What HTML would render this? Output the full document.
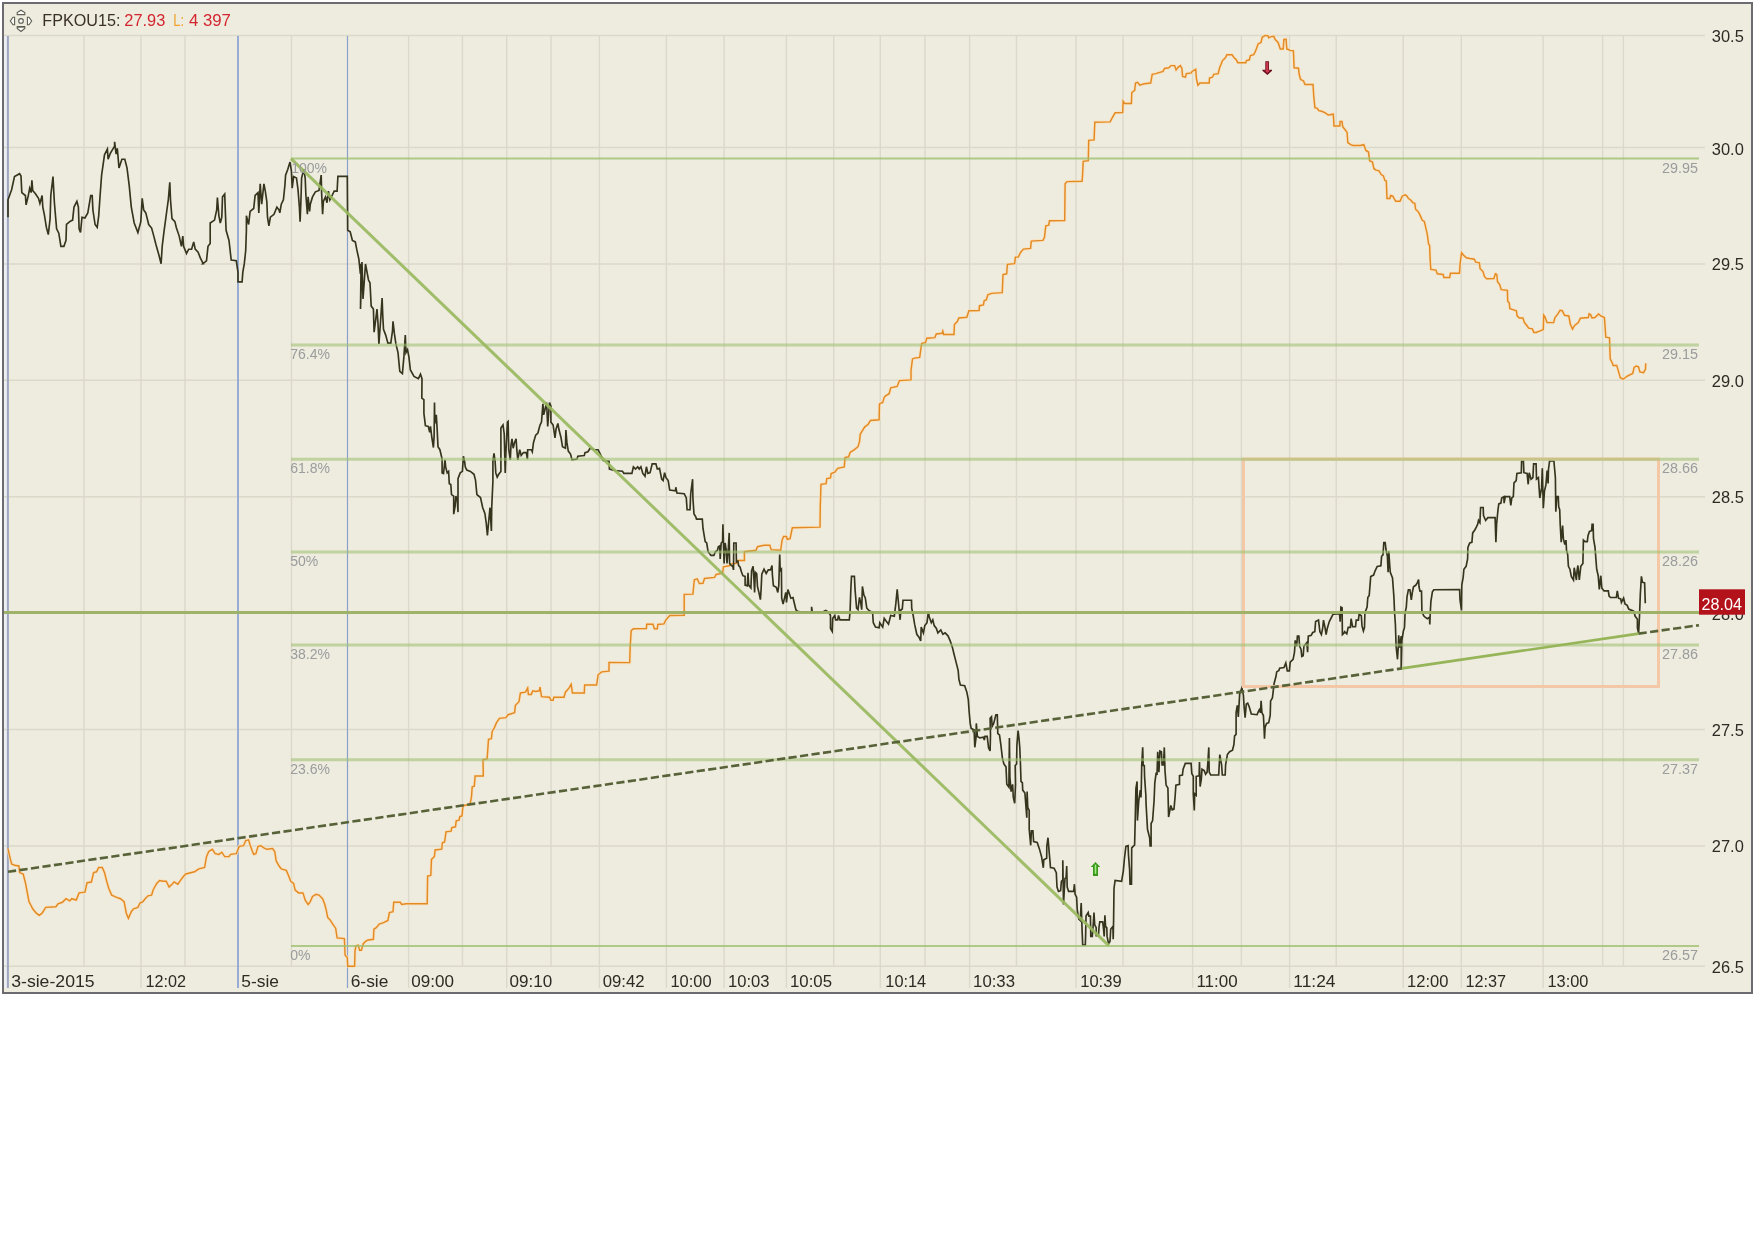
<!DOCTYPE html>
<html><head><meta charset="utf-8"><title>FPKOU15</title>
<style>html,body{margin:0;padding:0;background:#fff;}body{width:1754px;height:1240px;overflow:hidden;font-family:"Liberation Sans", sans-serif;}svg{display:block;position:absolute;left:0;top:0;will-change:transform;}text{font-family:"Liberation Sans", sans-serif;}</style>
</head><body>
<svg width="1754" height="1240" viewBox="0 0 1754 1240">
<rect x="0" y="0" width="1754" height="1240" fill="#ffffff"/>
<rect x="3" y="3" width="1749" height="990" fill="#eeebdf" stroke="#6c6c70" stroke-width="2"/>
<rect x="4" y="36" width="3" height="952" fill="#eceef2"/>
<line x1="4" y1="35.5" x2="1705" y2="35.5" stroke="#dbd9ca" stroke-width="1.4"/>
<line x1="4" y1="147.5" x2="1705" y2="147.5" stroke="#dbd9ca" stroke-width="1.4"/>
<line x1="4" y1="264" x2="1705" y2="264" stroke="#dbd9ca" stroke-width="1.4"/>
<line x1="4" y1="380.3" x2="1705" y2="380.3" stroke="#dbd9ca" stroke-width="1.4"/>
<line x1="4" y1="496.7" x2="1705" y2="496.7" stroke="#dbd9ca" stroke-width="1.4"/>
<line x1="4" y1="613" x2="1705" y2="613" stroke="#dbd9ca" stroke-width="1.4"/>
<line x1="4" y1="729.5" x2="1705" y2="729.5" stroke="#dbd9ca" stroke-width="1.4"/>
<line x1="4" y1="846" x2="1705" y2="846" stroke="#dbd9ca" stroke-width="1.4"/>
<line x1="4" y1="966.2" x2="1705" y2="966.2" stroke="#dbd9ca" stroke-width="1.4"/>
<line x1="84" y1="35.5" x2="84" y2="966.2" stroke="#dbd9ca" stroke-width="1.4"/>
<line x1="141" y1="35.5" x2="141" y2="988" stroke="#dbd9ca" stroke-width="1.4"/>
<line x1="185" y1="35.5" x2="185" y2="966.2" stroke="#dbd9ca" stroke-width="1.4"/>
<line x1="291.5" y1="35.5" x2="291.5" y2="966.2" stroke="#dbd9ca" stroke-width="1.4"/>
<line x1="408.6" y1="35.5" x2="408.6" y2="988" stroke="#dbd9ca" stroke-width="1.4"/>
<line x1="462.5" y1="35.5" x2="462.5" y2="966.2" stroke="#dbd9ca" stroke-width="1.4"/>
<line x1="506.7" y1="35.5" x2="506.7" y2="988" stroke="#dbd9ca" stroke-width="1.4"/>
<line x1="551" y1="35.5" x2="551" y2="966.2" stroke="#dbd9ca" stroke-width="1.4"/>
<line x1="599.4" y1="35.5" x2="599.4" y2="988" stroke="#dbd9ca" stroke-width="1.4"/>
<line x1="666.4" y1="35.5" x2="666.4" y2="988" stroke="#dbd9ca" stroke-width="1.4"/>
<line x1="724.1" y1="35.5" x2="724.1" y2="988" stroke="#dbd9ca" stroke-width="1.4"/>
<line x1="786.4" y1="35.5" x2="786.4" y2="988" stroke="#dbd9ca" stroke-width="1.4"/>
<line x1="833.7" y1="35.5" x2="833.7" y2="966.2" stroke="#dbd9ca" stroke-width="1.4"/>
<line x1="880.3" y1="35.5" x2="880.3" y2="988" stroke="#dbd9ca" stroke-width="1.4"/>
<line x1="925" y1="35.5" x2="925" y2="966.2" stroke="#dbd9ca" stroke-width="1.4"/>
<line x1="969.6" y1="35.5" x2="969.6" y2="988" stroke="#dbd9ca" stroke-width="1.4"/>
<line x1="1016.5" y1="35.5" x2="1016.5" y2="966.2" stroke="#dbd9ca" stroke-width="1.4"/>
<line x1="1076" y1="35.5" x2="1076" y2="988" stroke="#dbd9ca" stroke-width="1.4"/>
<line x1="1123" y1="35.5" x2="1123" y2="966.2" stroke="#dbd9ca" stroke-width="1.4"/>
<line x1="1192.6" y1="35.5" x2="1192.6" y2="988" stroke="#dbd9ca" stroke-width="1.4"/>
<line x1="1241.4" y1="35.5" x2="1241.4" y2="966.2" stroke="#dbd9ca" stroke-width="1.4"/>
<line x1="1289.6" y1="35.5" x2="1289.6" y2="988" stroke="#dbd9ca" stroke-width="1.4"/>
<line x1="1336.2" y1="35.5" x2="1336.2" y2="966.2" stroke="#dbd9ca" stroke-width="1.4"/>
<line x1="1403.2" y1="35.5" x2="1403.2" y2="988" stroke="#dbd9ca" stroke-width="1.4"/>
<line x1="1461.3" y1="35.5" x2="1461.3" y2="988" stroke="#dbd9ca" stroke-width="1.4"/>
<line x1="1543.1" y1="35.5" x2="1543.1" y2="988" stroke="#dbd9ca" stroke-width="1.4"/>
<line x1="1602.6" y1="35.5" x2="1602.6" y2="966.2" stroke="#dbd9ca" stroke-width="1.4"/>
<line x1="1623.4" y1="35.5" x2="1623.4" y2="966.2" stroke="#dbd9ca" stroke-width="1.4"/>
<line x1="7.9" y1="36" x2="7.9" y2="988" stroke="#9ea6c2" stroke-width="2"/>
<line x1="238" y1="36" x2="238" y2="988" stroke="#87a2d3" stroke-width="1.7"/>
<line x1="347.5" y1="36" x2="347.5" y2="988" stroke="#8ba1cc" stroke-width="1.2"/>
<polyline fill="none" stroke="#fde0b6" stroke-opacity="0.8" stroke-width="3.2" stroke-linejoin="round" points="8,848.6 9.4,855.1 11.6,863.9 14.5,865.3 18.9,866 19.6,872.6 23.2,874 25.4,882.7 26.8,890 29,901.6 32.7,908.8 36.3,913.2 39.2,915.4 42.1,913.2 45.7,907.4 55.9,906.7 58,903.8 62.4,902.3 66,898.7 69.7,900.9 71.8,898.7 76.2,900.1 79.1,892.9 84.9,892.2 87.1,882.7 91.4,882 93.6,872.6 96.5,871.8 98.7,867.5 102.3,867.5 104.5,872.6 106.7,881.3 108.8,888.5 111.7,895.1 116.1,897.2 120.4,898.7 124.1,901.6 126.3,913.2 128.4,918.3 131.3,911.7 133.5,908.8 137.9,907.4 140,903 142.9,901.6 145.1,898.7 148,895.8 151.6,895.1 153.1,890 156.7,883.4 159.6,880.5 163.3,881.3 166.2,881.3 169.1,887.1 172,884.2 174.1,882 177.8,884.2 181.4,879.1 183.6,876.2 185.8,874 194.5,871.8 198.8,868.9 204.6,867.5 206.5,856.6 208.7,851.5 212.3,849.3 215.2,853.7 218.9,854.4 221.8,852.2 224.7,856.6 229,856.6 230.5,854.4 236.3,853.7 239.2,846.4 243.5,845.7 245.7,840.6 248.6,839.9 250.1,845 252.2,850.8 253.7,854.4 255.9,853.7 258,846.4 260.9,845.7 263.9,847.9 266.8,849.3 272.6,848.6 274.7,851.5 276.2,860.9 279.1,866 281.3,868.9 286.3,870.4 288.5,875.5 290.7,881.3 293.6,883.4 295.1,890 298.7,892.9 303,892.9 305.2,900.1 308.1,904.5 310.3,901.6 312.5,896.5 316.1,894.3 319,895.1 322.6,898.7 324.8,904.5 326.3,910.3 327.7,917.5 329.9,919.7 332.8,924.1 335.7,928.4 337.1,937.9 344.4,938.6 345.1,955.3 347.3,957.5 347.7,966.2 354.6,966.2 355,950.9 356,945.8 358.2,945.1 359.6,950.2 361.4,950.2 363.3,943.7 366.2,940.8 368.3,940 373.4,939.3 373.9,929.2 376.3,927.7 379.2,924.1 383.6,922.6 387.9,920.4 389.4,912.5 393,911.7 393.7,902.3 400.3,902.3 401.7,904.5 406.1,903.8 427.2,903.7 427.6,876.1 430.8,875.4 431.5,859.4 434.4,856.5 435.1,850 441.7,849.2 442.4,842.7 444.6,842 446,831.8 451.1,831.1 451.8,827.5 455.5,826.8 456.2,820.9 459.1,820.2 459.8,816.6 462,815.9 463,805.7 470,804.3 471.4,797.7 472.2,786.8 474.3,786.1 475.1,776 483.3,776 483,759.7 487.1,759 488.5,739.4 491.4,738.7 492.2,731.4 494.3,727.8 496.5,722.7 499.4,718.4 505.9,717.6 508.1,714.7 514.6,712.6 515.4,705.3 519,701.7 520.4,693 525.5,692.2 527.7,687.9 528.4,694.4 531.3,694.4 532.8,690.8 535.7,691.5 539.3,690.8 540,687.2 541.5,696.6 549.5,697.3 550.9,700.2 553.1,700.2 553.8,697.3 564,697.3 565.4,692.2 569.1,687.9 571.2,684.3 572.4,693 584.3,693 584.6,685 596.6,685 598.1,674.8 601.7,671.9 609,671.2 609,662.5 629.7,662.6 630.2,646.7 631.2,630.7 633.4,628.8 646.4,628.5 646.7,624.2 653,624.2 654.4,628.8 657.3,628.8 657.8,624.5 663.9,623.9 666,619.8 669.7,615.5 684.2,615.2 684.2,594.4 692.9,594.1 694.3,579.9 697.2,578.9 699.4,583.5 703,583.2 704.5,578.5 714.6,577.4 716.1,574.5 722.6,573.1 723.4,566.8 729.2,565.8 730.6,564.1 736.4,563.4 737.9,560.4 744.4,560.4 744.4,551.7 756,550.3 757.5,546.7 764,545.2 769.8,545.2 771.2,549.6 780.7,550.3 782.1,540.1 783.6,536.5 786.5,536.5 787.2,539.4 790.1,538.7 792.3,527.8 820,527.1 820.3,505.4 821,484.4 826.1,483.7 826.8,478.6 830.5,477.9 831.2,473.5 834.8,472.1 837.7,468.4 844.3,467 845,457.5 848.6,456.8 850.1,452.5 854.4,449.6 858,446.7 859.5,441.6 860.2,434.3 862.4,430.7 864.6,427.1 868.2,424.2 870.4,420.5 879.1,419.8 879.5,403.9 882.7,402.4 884.2,397.3 885.6,395.9 889.2,393.7 890.7,387.9 897.2,386.4 899.4,380.6 911,379.9 911,370.5 912.5,358.9 914.6,358.1 919.7,357.4 921.2,346.5 921.8,343.4 925.4,342.7 926.8,338.3 934.8,337.6 936.3,334 942.1,333.3 942.8,331.1 943.5,334.4 954,334.4 954.4,324.6 957.3,321.6 958.8,318 966.8,317.3 968.9,310.8 979.1,310.5 979.5,305.7 983.4,305 984.2,300.6 986.3,299.9 987.8,294.8 991.4,293.4 1002.3,292.6 1003,274.5 1006.7,273.8 1007.4,264.3 1014.6,263.6 1015.4,257.1 1018.3,257.1 1020.4,252.7 1023.4,249.1 1030.6,248.4 1031.3,241.1 1042.9,240.4 1044.4,237.5 1045.8,225.9 1048.7,225.1 1049.5,220.8 1064.7,220.5 1065.1,183.8 1066.9,181.6 1082.1,181.3 1082.5,175.9 1083.2,161.4 1088.3,160.7 1088.7,140.4 1094.1,139.9 1094.8,122.2 1110.1,121.9 1112.2,117.9 1115.1,112.8 1122.7,112.5 1123.1,101.2 1124.6,103.4 1131.4,103.4 1131.8,92.5 1134.7,90.3 1135.5,83 1137.6,82.3 1139.8,85.2 1144.2,83.8 1150.7,83 1152.2,74.3 1155.8,73.6 1163,71.4 1164.5,68.5 1168.8,67.8 1171,65.6 1174.6,65.6 1176.1,70 1178.3,67.1 1180.4,65.6 1181.9,68.5 1182.6,76.5 1185.5,77.2 1186.3,73.6 1191.3,72.9 1192.1,71.4 1195.7,69.3 1196.4,78.7 1197.9,85.2 1200,83 1209.2,83 1209.5,78 1212.4,77.2 1213.8,74.3 1218.2,73.6 1219.6,67.8 1221.1,64.2 1222.5,60.6 1225.4,57.7 1226.9,54.7 1232,54.7 1234.1,57.7 1236.3,59.8 1237.8,62.7 1245.8,62.7 1246.5,60.6 1249.4,59.8 1250.4,55.5 1253.7,54.7 1255.2,51.8 1256.6,48.2 1258.1,43.9 1261,42.4 1262.2,37.3 1265.1,35.4 1268,35.9 1268.7,37.8 1270.9,36.6 1273.8,36.3 1275.2,39.5 1278.1,42.4 1280.3,48.9 1283.2,48.9 1283.9,39.5 1286.1,39.2 1286.8,48.9 1289,49.7 1289.7,50.4 1293.4,50.8 1294.1,67.8 1298.5,68.2 1299.2,74.3 1300.6,79.4 1303.5,80.9 1305,84.5 1313,84.5 1313.7,95.4 1314.9,107.7 1317.3,108.4 1318.8,110.6 1321.7,111.3 1325.3,112.8 1328.2,115 1333.3,114.2 1334,125.9 1339.8,125.9 1340.1,121.5 1342,121.5 1342.7,126.6 1344.9,129.5 1347.1,132.4 1347.8,142.5 1350.7,144.7 1352.9,145.4 1360.1,145.4 1363.8,144.7 1365.9,150.5 1368.5,152 1369.6,160.7 1372.5,162.1 1373.9,168.7 1376.1,170.1 1379,170.8 1381.2,174.5 1383.4,175.9 1384.8,180.3 1386.3,181 1387,198.4 1389.9,198.4 1390.6,195.5 1392.8,196.2 1395.7,201.3 1400,201.3 1402.2,196.2 1405.1,194.8 1406.8,195.8 1408.3,198.3 1411.2,200.5 1412.7,202.7 1414.8,203.4 1415.6,209.2 1418.5,212.1 1420.6,216.4 1422.1,220.1 1424.3,221.5 1425.7,227.3 1427.2,233.9 1428.6,244 1429.6,245.5 1430.1,258.5 1430.8,269.4 1435.9,270.1 1437.3,273.8 1443.1,274.5 1443.9,277.4 1449.7,277.4 1450.4,273.3 1459.5,273.3 1460.1,263.6 1461.6,252.7 1463.4,254.9 1466.3,257.8 1470,258.5 1474.3,259.2 1475.8,262.2 1479.4,262.9 1480.1,268.7 1483,271.6 1484.5,276.7 1486.7,278.8 1493.9,278.5 1495.4,273.8 1496.8,274.5 1497.5,281.7 1499.7,284.6 1501.2,289.7 1507.4,290.4 1507.7,301.3 1509.2,302.8 1509.9,308.6 1512.8,309.6 1516.4,310.8 1517.1,315.8 1519.3,318 1522.9,318 1524.4,322.4 1526.6,325.3 1528.7,328.2 1532.4,328.9 1533.8,332.5 1536,332.5 1539.6,331.1 1543.3,329.6 1543.7,315.1 1544.9,316.8 1547.1,322.6 1553.6,322.6 1555,317.5 1557.9,313.9 1560.1,310.2 1562.3,310.7 1564.5,315.3 1568.8,316 1570.3,324 1572.5,329.1 1574.6,325.5 1578.3,322.6 1580.4,318.2 1588.4,317.5 1589.1,313.9 1590.6,314.6 1592,317.9 1594.9,317.5 1598.6,313.9 1600.8,316 1604.4,317.5 1605.1,326.9 1605.8,337.1 1609.5,337.8 1610.2,358.8 1612.4,363.2 1613.1,365.4 1616.7,365.4 1618.2,370.4 1620.3,377.7 1623.2,379.2 1626.9,376.3 1632.7,373.4 1634.1,367.5 1636.3,366.1 1638.5,366.8 1639.9,371.9 1643.6,372.6 1645.5,369 1645.7,363.2"/>
<polyline fill="none" stroke="#e28a23" stroke-width="1.45" stroke-linejoin="miter" points="8,848.6 9.4,855.1 11.6,863.9 14.5,865.3 18.9,866 19.6,872.6 23.2,874 25.4,882.7 26.8,890 29,901.6 32.7,908.8 36.3,913.2 39.2,915.4 42.1,913.2 45.7,907.4 55.9,906.7 58,903.8 62.4,902.3 66,898.7 69.7,900.9 71.8,898.7 76.2,900.1 79.1,892.9 84.9,892.2 87.1,882.7 91.4,882 93.6,872.6 96.5,871.8 98.7,867.5 102.3,867.5 104.5,872.6 106.7,881.3 108.8,888.5 111.7,895.1 116.1,897.2 120.4,898.7 124.1,901.6 126.3,913.2 128.4,918.3 131.3,911.7 133.5,908.8 137.9,907.4 140,903 142.9,901.6 145.1,898.7 148,895.8 151.6,895.1 153.1,890 156.7,883.4 159.6,880.5 163.3,881.3 166.2,881.3 169.1,887.1 172,884.2 174.1,882 177.8,884.2 181.4,879.1 183.6,876.2 185.8,874 194.5,871.8 198.8,868.9 204.6,867.5 206.5,856.6 208.7,851.5 212.3,849.3 215.2,853.7 218.9,854.4 221.8,852.2 224.7,856.6 229,856.6 230.5,854.4 236.3,853.7 239.2,846.4 243.5,845.7 245.7,840.6 248.6,839.9 250.1,845 252.2,850.8 253.7,854.4 255.9,853.7 258,846.4 260.9,845.7 263.9,847.9 266.8,849.3 272.6,848.6 274.7,851.5 276.2,860.9 279.1,866 281.3,868.9 286.3,870.4 288.5,875.5 290.7,881.3 293.6,883.4 295.1,890 298.7,892.9 303,892.9 305.2,900.1 308.1,904.5 310.3,901.6 312.5,896.5 316.1,894.3 319,895.1 322.6,898.7 324.8,904.5 326.3,910.3 327.7,917.5 329.9,919.7 332.8,924.1 335.7,928.4 337.1,937.9 344.4,938.6 345.1,955.3 347.3,957.5 347.7,966.2 354.6,966.2 355,950.9 356,945.8 358.2,945.1 359.6,950.2 361.4,950.2 363.3,943.7 366.2,940.8 368.3,940 373.4,939.3 373.9,929.2 376.3,927.7 379.2,924.1 383.6,922.6 387.9,920.4 389.4,912.5 393,911.7 393.7,902.3 400.3,902.3 401.7,904.5 406.1,903.8 427.2,903.7 427.6,876.1 430.8,875.4 431.5,859.4 434.4,856.5 435.1,850 441.7,849.2 442.4,842.7 444.6,842 446,831.8 451.1,831.1 451.8,827.5 455.5,826.8 456.2,820.9 459.1,820.2 459.8,816.6 462,815.9 463,805.7 470,804.3 471.4,797.7 472.2,786.8 474.3,786.1 475.1,776 483.3,776 483,759.7 487.1,759 488.5,739.4 491.4,738.7 492.2,731.4 494.3,727.8 496.5,722.7 499.4,718.4 505.9,717.6 508.1,714.7 514.6,712.6 515.4,705.3 519,701.7 520.4,693 525.5,692.2 527.7,687.9 528.4,694.4 531.3,694.4 532.8,690.8 535.7,691.5 539.3,690.8 540,687.2 541.5,696.6 549.5,697.3 550.9,700.2 553.1,700.2 553.8,697.3 564,697.3 565.4,692.2 569.1,687.9 571.2,684.3 572.4,693 584.3,693 584.6,685 596.6,685 598.1,674.8 601.7,671.9 609,671.2 609,662.5 629.7,662.6 630.2,646.7 631.2,630.7 633.4,628.8 646.4,628.5 646.7,624.2 653,624.2 654.4,628.8 657.3,628.8 657.8,624.5 663.9,623.9 666,619.8 669.7,615.5 684.2,615.2 684.2,594.4 692.9,594.1 694.3,579.9 697.2,578.9 699.4,583.5 703,583.2 704.5,578.5 714.6,577.4 716.1,574.5 722.6,573.1 723.4,566.8 729.2,565.8 730.6,564.1 736.4,563.4 737.9,560.4 744.4,560.4 744.4,551.7 756,550.3 757.5,546.7 764,545.2 769.8,545.2 771.2,549.6 780.7,550.3 782.1,540.1 783.6,536.5 786.5,536.5 787.2,539.4 790.1,538.7 792.3,527.8 820,527.1 820.3,505.4 821,484.4 826.1,483.7 826.8,478.6 830.5,477.9 831.2,473.5 834.8,472.1 837.7,468.4 844.3,467 845,457.5 848.6,456.8 850.1,452.5 854.4,449.6 858,446.7 859.5,441.6 860.2,434.3 862.4,430.7 864.6,427.1 868.2,424.2 870.4,420.5 879.1,419.8 879.5,403.9 882.7,402.4 884.2,397.3 885.6,395.9 889.2,393.7 890.7,387.9 897.2,386.4 899.4,380.6 911,379.9 911,370.5 912.5,358.9 914.6,358.1 919.7,357.4 921.2,346.5 921.8,343.4 925.4,342.7 926.8,338.3 934.8,337.6 936.3,334 942.1,333.3 942.8,331.1 943.5,334.4 954,334.4 954.4,324.6 957.3,321.6 958.8,318 966.8,317.3 968.9,310.8 979.1,310.5 979.5,305.7 983.4,305 984.2,300.6 986.3,299.9 987.8,294.8 991.4,293.4 1002.3,292.6 1003,274.5 1006.7,273.8 1007.4,264.3 1014.6,263.6 1015.4,257.1 1018.3,257.1 1020.4,252.7 1023.4,249.1 1030.6,248.4 1031.3,241.1 1042.9,240.4 1044.4,237.5 1045.8,225.9 1048.7,225.1 1049.5,220.8 1064.7,220.5 1065.1,183.8 1066.9,181.6 1082.1,181.3 1082.5,175.9 1083.2,161.4 1088.3,160.7 1088.7,140.4 1094.1,139.9 1094.8,122.2 1110.1,121.9 1112.2,117.9 1115.1,112.8 1122.7,112.5 1123.1,101.2 1124.6,103.4 1131.4,103.4 1131.8,92.5 1134.7,90.3 1135.5,83 1137.6,82.3 1139.8,85.2 1144.2,83.8 1150.7,83 1152.2,74.3 1155.8,73.6 1163,71.4 1164.5,68.5 1168.8,67.8 1171,65.6 1174.6,65.6 1176.1,70 1178.3,67.1 1180.4,65.6 1181.9,68.5 1182.6,76.5 1185.5,77.2 1186.3,73.6 1191.3,72.9 1192.1,71.4 1195.7,69.3 1196.4,78.7 1197.9,85.2 1200,83 1209.2,83 1209.5,78 1212.4,77.2 1213.8,74.3 1218.2,73.6 1219.6,67.8 1221.1,64.2 1222.5,60.6 1225.4,57.7 1226.9,54.7 1232,54.7 1234.1,57.7 1236.3,59.8 1237.8,62.7 1245.8,62.7 1246.5,60.6 1249.4,59.8 1250.4,55.5 1253.7,54.7 1255.2,51.8 1256.6,48.2 1258.1,43.9 1261,42.4 1262.2,37.3 1265.1,35.4 1268,35.9 1268.7,37.8 1270.9,36.6 1273.8,36.3 1275.2,39.5 1278.1,42.4 1280.3,48.9 1283.2,48.9 1283.9,39.5 1286.1,39.2 1286.8,48.9 1289,49.7 1289.7,50.4 1293.4,50.8 1294.1,67.8 1298.5,68.2 1299.2,74.3 1300.6,79.4 1303.5,80.9 1305,84.5 1313,84.5 1313.7,95.4 1314.9,107.7 1317.3,108.4 1318.8,110.6 1321.7,111.3 1325.3,112.8 1328.2,115 1333.3,114.2 1334,125.9 1339.8,125.9 1340.1,121.5 1342,121.5 1342.7,126.6 1344.9,129.5 1347.1,132.4 1347.8,142.5 1350.7,144.7 1352.9,145.4 1360.1,145.4 1363.8,144.7 1365.9,150.5 1368.5,152 1369.6,160.7 1372.5,162.1 1373.9,168.7 1376.1,170.1 1379,170.8 1381.2,174.5 1383.4,175.9 1384.8,180.3 1386.3,181 1387,198.4 1389.9,198.4 1390.6,195.5 1392.8,196.2 1395.7,201.3 1400,201.3 1402.2,196.2 1405.1,194.8 1406.8,195.8 1408.3,198.3 1411.2,200.5 1412.7,202.7 1414.8,203.4 1415.6,209.2 1418.5,212.1 1420.6,216.4 1422.1,220.1 1424.3,221.5 1425.7,227.3 1427.2,233.9 1428.6,244 1429.6,245.5 1430.1,258.5 1430.8,269.4 1435.9,270.1 1437.3,273.8 1443.1,274.5 1443.9,277.4 1449.7,277.4 1450.4,273.3 1459.5,273.3 1460.1,263.6 1461.6,252.7 1463.4,254.9 1466.3,257.8 1470,258.5 1474.3,259.2 1475.8,262.2 1479.4,262.9 1480.1,268.7 1483,271.6 1484.5,276.7 1486.7,278.8 1493.9,278.5 1495.4,273.8 1496.8,274.5 1497.5,281.7 1499.7,284.6 1501.2,289.7 1507.4,290.4 1507.7,301.3 1509.2,302.8 1509.9,308.6 1512.8,309.6 1516.4,310.8 1517.1,315.8 1519.3,318 1522.9,318 1524.4,322.4 1526.6,325.3 1528.7,328.2 1532.4,328.9 1533.8,332.5 1536,332.5 1539.6,331.1 1543.3,329.6 1543.7,315.1 1544.9,316.8 1547.1,322.6 1553.6,322.6 1555,317.5 1557.9,313.9 1560.1,310.2 1562.3,310.7 1564.5,315.3 1568.8,316 1570.3,324 1572.5,329.1 1574.6,325.5 1578.3,322.6 1580.4,318.2 1588.4,317.5 1589.1,313.9 1590.6,314.6 1592,317.9 1594.9,317.5 1598.6,313.9 1600.8,316 1604.4,317.5 1605.1,326.9 1605.8,337.1 1609.5,337.8 1610.2,358.8 1612.4,363.2 1613.1,365.4 1616.7,365.4 1618.2,370.4 1620.3,377.7 1623.2,379.2 1626.9,376.3 1632.7,373.4 1634.1,367.5 1636.3,366.1 1638.5,366.8 1639.9,371.9 1643.6,372.6 1645.5,369 1645.7,363.2"/>
<polyline fill="none" stroke="#35341c" stroke-width="1.65" stroke-linejoin="miter" points="8,217.2 8,199.8 11.6,189.7 14.5,176.6 19.6,173.7 21,175.9 21.8,192.6 25.4,195.5 26.1,204.9 28.3,195.5 29.7,188.2 31.2,192.6 31.9,180.2 32.7,190.4 35.6,194 38.5,198.4 39.9,203.4 42.1,195.5 42.8,207.1 44.3,214.3 46.4,227.4 48.3,234.6 50.1,218.7 50.8,195.5 53,176.6 54.4,202.7 56.6,228.8 58.8,233.2 60.9,246.3 63.9,246.3 66,240.4 66.5,224.5 69.7,221.6 72.6,220.1 74,207.1 76.9,201.3 78.4,207.1 79.1,228.8 80.5,232.5 82,217.2 84.9,218 87.8,212.9 90.7,195.5 92.2,195.5 92.9,210 95.1,224.5 97.2,227.4 98.7,215.8 100.1,195.5 101.6,175.1 104.5,154.8 107.4,149 108.1,159.2 110.3,153.4 114.6,146.1 114.6,141.8 116.1,154.1 117.3,148.3 119,167.9 121.9,159.2 124.8,159.2 127,167.9 129.2,185.3 131.3,207.1 134.2,223 137.9,232.5 140.8,221.6 142.2,198.4 143.7,210 145.8,212.9 148.7,224.5 151.6,228.1 153.8,236.1 156,244.8 158.9,255 161.1,263.7 162.2,246.3 164,231.7 166.9,210 168.3,199.8 169.8,182.4 170.5,199.8 172,218.7 174.9,221.6 176.3,227.4 179.2,236.1 181.4,246.3 182.8,236.1 183.6,246.3 186.5,253.5 188.7,249.2 191.6,249.2 193.7,241.9 195.2,249.2 198.1,252.1 200.3,257.9 203.2,263.7 202.9,263.7 206.5,260.8 208,246.3 210.2,243.4 210.2,223 214.5,220.1 216.7,210 217.4,197.6 218.9,215.8 220.3,223 221.8,217.2 222.5,196.9 224.7,194 225.4,212.9 226.1,230.3 229,240.4 231.2,260 236.3,260.8 238,272.4 238,281.8 242.1,281.8 242.8,272.4 244.3,263.7 245.7,250.6 246.4,230.3 246.4,215.8 248.6,224.5 250.1,211.4 253.7,208.5 255.1,195.5 258,192.6 258.8,212.9 260.2,183.9 261.7,204.2 263.9,183.9 265.3,191.1 266.8,201.3 267.5,217.2 268.9,225.9 270.4,217.2 274,214.3 276.9,207.1 279.1,210 279.8,212.9 281.3,204.2 283.4,199.8 284.9,185.3 285.6,175.1 287.8,169.3 290,162.1 291.4,170.8 292.2,188.2 293.6,176.6 296.5,178 298,189.7 299.4,207.1 300.1,221.6 300.9,201.3 301.6,178 303.8,169.3 305.2,178 305.9,195.5 307.4,214.3 308.1,196.9 309.6,211.4 310.3,204.2 312.5,196.9 315.4,191.8 319,190.4 321.2,175.1 321.6,192.6 322.6,214.3 323.4,201.3 325.5,196.9 327,202.7 328.4,191.1 329.9,199.8 332.1,195.5 334.2,191.1 337.1,191.1 337.9,176.3 347.3,176.3 347.7,230.3 350.2,231.7 352.4,240.4 355.3,241.9 356.7,249.2 358.9,259.3 360.4,273.8 361.1,263.7 360.5,309 362,262 363,299 365.5,264 368.5,280 370,283 371.2,306.1 373.4,309 374.1,332.2 375.6,320.6 377,309 378,323.5 378.9,343.9 380.6,320.6 382.1,298.1 382.8,316.3 383.5,329.3 385.7,335.1 387.9,343.1 390.8,343.1 392.5,330.8 393,321.4 394.4,333.7 395.9,343.9 398,352.6 399.8,371.4 402.4,373.6 403.9,356.9 405.3,335.1 406,352.6 407.5,349.7 408.9,356.9 410.4,370 414,376.5 418.4,378.7 420.5,374.3 422,378.7 421.8,398.1 423.9,399.6 423.9,413.4 425.4,425.7 428.3,426.4 429.7,432.2 430.5,426.4 431.9,438 433.4,447.5 434.1,436.6 434.5,402.5 434.8,423.5 436.3,414.8 437,426.4 438,446.8 439.9,449.7 442.1,459.1 442.1,472.9 443.5,473.6 445,459.8 445.7,467.1 447.2,472.9 448.6,471.4 449.3,483.8 450.8,484.5 451.5,494.6 453.7,496.1 453.7,514.2 455.1,506.3 455.9,496.1 457.3,500.4 458,512.1 458,478.7 460.2,472.9 462.4,471.4 463.4,456.2 464.6,461.3 465.3,467.1 466.8,470 470.4,471.4 474,474.3 475.5,480.1 476.9,494.6 480.5,497.5 482.7,507.7 484.9,513.5 486.3,523.7 487.4,535.3 488.5,523.7 490,507.7 491.4,530.9 491.7,507.7 492.9,481.6 492.9,461.3 494,453.3 495.1,461.3 495.8,472.9 497.2,477.2 498.7,474.3 500.9,471.4 500.9,427.9 503,425 504.2,433.7 505.2,472.9 505.9,452.6 507.4,422.1 508.1,421.4 508.8,449.7 510.3,459.8 511,445.3 512,438.8 513.2,448.2 514.6,442.4 516.1,438.8 516.8,449.7 517.8,459.8 519.7,449.7 521.2,455.5 523.4,452.6 526.3,452.6 527.4,459.1 527.7,449.7 531.3,449.7 532.3,451.8 533.5,442.4 535.7,435.1 537.9,433 540,425 541.5,422.1 542.9,403.9 543.7,414.8 545.1,409 546.6,402.5 547.7,426.4 548.7,413.4 549.5,402.5 550.9,406.1 550.9,422.1 553.1,425 555,438 556,429.3 557.9,423.5 558.9,429.3 561.1,438 562.5,446.8 565.4,448.2 565.9,430.1 566.9,442.4 568.3,451.1 570.5,454 572,459.8 577,459.1 577.8,456.2 584.3,455.5 585,452.6 587.9,451.8 590.1,448.2 594.5,449.7 598.1,449.7 600.3,454 603.2,460.5 609,461.3 609.4,469 614.5,470.5 622.5,471.2 623.9,473.4 631.9,473.4 633.4,466.8 635.6,469 637.7,466.8 639.2,469 640.9,466.8 642.8,473.4 645,476.3 646.4,466.8 647.9,473.4 650.1,472.7 652.2,463.9 655.9,463.9 657.3,469 659.5,468.3 661.7,479.2 663.1,480.6 664.6,472.7 666,477.7 668.2,480.6 669.7,490.1 675.5,490.8 675.8,487.2 676.9,493 684.2,493.7 686.3,498 687.1,509.7 690,509.7 690.7,493.7 692.6,479.2 692.9,498 694,514 695.8,516.9 696.5,519.1 702.3,519.1 703,528.5 705.2,541.6 706.7,543 708.1,551.7 711,555.4 713.9,555.4 715.4,551.7 717.5,550.3 718.3,546.7 719.7,545.9 720.2,559 721.2,543 722.6,541.6 722.9,524.2 723.4,541.6 724.1,563.4 725.1,543 726.3,550.3 727,563.4 728.4,547.4 729.2,532.9 729.6,563.4 731.3,565.5 732.8,566.3 733.5,569.9 733.8,543 736.1,543 736.4,561.9 737.9,561.2 738.6,565.5 740,567 741.5,572.1 742.9,575.7 745.1,576.4 745.1,585.1 747.3,585.8 748,572.8 748.7,585.1 750.9,588 751.6,570.6 753.1,566.3 753.8,576.4 754.6,592.4 755.3,572.1 756.7,573.5 757.5,586.6 758.9,592.4 760.4,599.6 761.1,589.5 761.8,574.2 764,569.2 766.2,573.5 768.3,569.9 770.5,569.9 772,565.5 772.4,575 773.4,585.8 776.3,587.3 777.8,592.4 778.8,585.1 779.7,554.6 780.2,570.6 781.4,569.2 781.7,598.2 783.1,604 784.3,598.9 785.8,592.4 786.5,602.5 787.9,589.5 789.4,593.8 790.8,598.2 793,597.5 794.5,604 795.9,609.8 797.4,611.2 800,611.8 811.6,611.8 811.6,606.8 812.3,611.8 823.2,611.8 825.8,610.4 829,612.6 830.5,615.5 830.5,628.5 832.2,631.4 832.7,618.4 834.8,615.5 835.6,619.8 837.7,619.8 838.5,615.5 839.9,619.8 849.3,619.8 850.1,611.1 850.8,590.1 851.5,576.3 854.4,576.3 855.1,590.1 856.6,608.2 858,609.7 859.5,597.3 860.9,603.9 861.7,609.7 862.4,586.4 863.9,595.1 865.3,598 866.8,608.2 868.9,610.4 872.6,612.6 873.3,622.7 875.5,627.1 879.1,627.8 879.8,622.7 882.7,627.1 884.2,618.4 886.3,621.3 888.5,624.2 890.7,615.5 894.3,616.2 895.8,603.9 897.2,589.3 898,598 899.4,612.6 900.1,619.8 900.9,609.7 902.3,608.9 903,600.2 911.5,600.2 911.7,608.2 913.2,615.5 914.6,624.2 916.8,634.3 919,637.2 920.7,640.9 921.2,627.1 923.4,632.9 924.8,625.6 927,622.7 928.4,611.1 929.2,616.9 931.3,622.7 932.8,619.8 934.2,625.6 936.4,628.5 937.9,632.9 940.8,630 942.9,634.3 945.1,632.9 948,635.8 950.2,640.9 952.4,647.4 953.8,653.2 956,661.9 958.2,670.6 958.9,679.3 960.4,685.1 964.7,685.8 966.9,692.4 968.3,699.6 969.1,711.2 970.2,723.4 971.2,728.5 974.1,729.9 974.8,747.3 976,737.9 976.3,723.4 977.4,736.4 979.9,737.9 983.5,737.2 984.3,740.1 985,736.4 987.2,736.4 988.6,748 990.1,750.9 990.5,735 990.1,718.3 991.5,716.8 992.2,726.3 993.7,723.4 995.9,714.7 997.3,714.7 997.8,733.5 999.5,735 1000.9,745.1 1002.4,758.2 1003.9,764 1006,766.9 1006.8,784.3 1008.9,787.2 1009.4,737.9 1009.9,777.1 1011.1,791.6 1012.6,784.3 1013.3,797.4 1014.7,803.2 1015.5,784.3 1015.2,765.5 1016.6,764 1016.9,745.1 1018.1,730.6 1019.1,739.3 1019.8,748 1020.5,765.5 1021,781.4 1022.4,782.9 1022.7,790.1 1024.9,793 1026.8,817.7 1027.1,791.6 1027.8,807.5 1029.2,810.4 1029.2,829.3 1030.7,845.3 1031.4,830.8 1032.9,830.8 1033.6,841.6 1037.2,842.4 1039.4,848.9 1041.6,856.9 1043.3,867.8 1043.8,859.8 1046.7,858.3 1046.8,846.4 1048,837.7 1049,850.1 1049.7,858 1050.5,867.5 1054.1,868.2 1056.3,872.6 1057,887.1 1058.5,891.4 1060.6,890.7 1061.4,881.3 1062.8,879.8 1062.8,860.2 1063.5,904.5 1064.3,890 1065,878.4 1066.1,877.6 1066.7,866 1067.2,887.1 1068.6,891.4 1073.7,891.4 1074.4,884.2 1075.1,894.3 1076.6,897.2 1077.3,910.3 1078.8,919 1080.2,920.4 1081.2,903 1082.1,930.6 1082.7,945.1 1085.3,945.1 1085.6,936.4 1086,916.1 1088.2,912.5 1088.9,916.1 1090.4,916.1 1090.8,936.4 1092.3,936.4 1093.3,923.4 1094,912.5 1094.7,924.8 1096.2,927.7 1096.2,935.7 1098.4,935.7 1099.1,926.3 1099.8,921.9 1102.7,921.9 1103.4,927.7 1104.2,936.4 1104.9,915.4 1105.6,926.3 1106.8,927.7 1107.1,936.4 1108.5,943.7 1110,941.5 1110.7,929.2 1112.9,926.3 1113.2,939.3 1113.6,920.4 1114,888.5 1115.1,880.5 1121.6,881.3 1123.3,871.1 1124.5,858 1125.9,846.4 1128.1,845.7 1128.5,855.1 1129.6,869.7 1130,884.2 1131.5,884.2 1131.7,847.9 1133.2,846.4 1134.6,845 1135.2,820.6 1135.9,788.7 1137.1,781.4 1137.4,820.6 1138.8,800.3 1140.3,790.1 1141,797.4 1141.4,782.9 1141.7,765.5 1142.7,747.3 1143.2,765.5 1144.3,765.5 1144.6,777.1 1145.8,794.5 1146.1,804.6 1147.5,829.3 1149.7,838 1150.1,846 1151.1,846 1151.1,823.5 1152.6,820.6 1154.1,800.3 1154.8,782.9 1156.2,772.7 1157,775 1157.7,751.7 1158.9,772.1 1159.9,751 1161.4,751.7 1162.1,764.8 1163.5,764.8 1164.3,747.4 1165,770.6 1166.1,785.1 1167.9,788 1168.6,817 1170.8,805.4 1172.2,809.8 1174,809.1 1175.1,796.7 1175.9,785.1 1179.5,784.4 1179.5,775.7 1182.4,775 1183.1,769.2 1185.3,763.4 1191.1,763.4 1191.8,773.5 1193.3,776.4 1193.3,793.8 1194.3,810.5 1194.7,793.8 1196.2,795.3 1196.2,776.4 1199.1,775.7 1199.5,761.9 1200.1,786.6 1201.3,779.3 1202,769.2 1204.2,770.6 1205.6,774.2 1207.1,772.1 1207.8,763.4 1208.8,747.4 1209.2,772.1 1210.7,775 1218.7,775 1219.8,754.6 1221.6,764.8 1222.3,775 1225.2,775 1225.6,764.8 1227.4,754.6 1229.6,751.7 1232.5,750.3 1233.9,744.5 1234.6,735.8 1236.1,734.3 1236.1,712.6 1237.3,705.3 1238.3,716.9 1239.7,693.7 1241.9,687.9 1243.4,695.1 1244.1,706.8 1245.1,717.6 1246.3,703.9 1247.7,703.1 1249.2,706.8 1251.3,714 1257.1,714.7 1257.9,712.6 1259.3,709.7 1260.5,712.6 1261.1,700.9 1261.9,712.6 1263.4,715.5 1264,727.1 1264.5,738.7 1265.1,727.1 1266.6,723.4 1268.7,722.7 1270.2,715.5 1270.6,700.9 1272.4,698 1273.1,692.2 1274.1,683.5 1276,676.3 1276.7,671.9 1278.9,670.5 1279.6,668.3 1284,667.6 1285.8,662.9 1287.3,670.9 1289.4,670.9 1290.2,662.2 1293.1,659.3 1294.5,652.1 1295.2,640.4 1296.7,646.3 1297.4,636.1 1298.9,636.1 1299.6,646.3 1301,649.2 1301.8,656.4 1303.2,655.7 1303.9,646.3 1306.8,642.6 1307.6,652.1 1308.3,636.1 1311.2,635.4 1312.7,632.5 1314.8,631.7 1315.6,621.6 1318.5,620.1 1319.9,631.7 1321.4,634.6 1322.8,627.4 1323.5,620.1 1325,627.4 1326.1,634.6 1327.2,628.8 1329.3,621.6 1333,614.3 1339.5,613.6 1340.2,621.6 1340.9,607.1 1342.1,607.8 1342.4,634.6 1343.9,633.2 1344.6,631.7 1346.8,633.9 1348.2,627.4 1350.4,627.4 1351.1,618.7 1352.6,626.7 1355.5,626.7 1356.2,620.1 1358.4,620.1 1359.1,614.3 1361.3,615.8 1362,625.9 1363.4,631 1364.5,627.4 1364.9,612.9 1367.1,607.1 1367.8,597.6 1369.2,595.5 1370.7,576.6 1373.6,575.1 1375.1,570.8 1377.2,566.4 1380.9,565.7 1381.6,556.3 1383,554.8 1383.8,542.5 1385.2,542.5 1385.9,549 1387.4,556.3 1388.1,572.2 1388.8,551.2 1389.6,563.5 1390.3,572.2 1392.5,578 1393.9,596.9 1394.6,612.9 1395.4,624.5 1396.1,646.3 1397.5,659.3 1398.3,646.3 1398.7,635.4 1399.7,647.7 1401.2,636.1 1401.2,668 1401.9,640.4 1403.4,631 1404.5,627.4 1405.1,612.9 1406.3,607.1 1407,596.9 1408.4,589.7 1409.9,589.7 1411.3,599.8 1412.3,592.6 1413.5,586.8 1415.7,585.3 1417.1,583.1 1418.6,579.5 1419,586.8 1420,591.1 1421.5,591.1 1421.9,611.4 1423.7,615.8 1425.1,617.2 1427.3,618.7 1429.5,617.2 1429.8,624.5 1430.2,614.3 1430.9,601.3 1432.4,591.8 1433.8,589.7 1459.6,589.5 1460,599.6 1461.5,610.5 1461.8,585.1 1463.2,577.1 1463.9,569.2 1466.1,566.3 1467.6,559 1467.9,547.4 1469.7,543 1471.9,542.3 1472.7,532.9 1474.8,530 1476.3,527.1 1477.7,524.2 1478.5,520.5 1479.9,522.7 1480.6,507.5 1483.2,507.5 1483.5,515.5 1485.7,520.5 1487.9,517.6 1495.1,517.6 1495.9,542.3 1496.6,524.2 1498,509.7 1498.8,503.9 1500.9,503.1 1501.7,498 1503.9,496.6 1504.1,503.1 1505.3,496.6 1509.7,496.6 1510.8,505.3 1511.8,498 1513.3,496.6 1514,482.8 1516.2,480.6 1516.9,473.4 1521.3,472.7 1521.6,461 1523.4,461 1523.9,472.7 1527.1,473.4 1528.2,484.3 1529.2,472.7 1531.1,479.2 1532.9,477.7 1533.6,463.9 1536.1,463.9 1536.5,479.2 1538.4,477.7 1539.8,498 1541.6,487.9 1542.3,468.3 1543.3,508.2 1544.5,490.8 1545.9,485 1547.1,470.5 1548.1,483.5 1548.5,469 1549.6,461 1553.9,461 1554.6,469 1555.4,477.7 1555.8,511.8 1556.8,496.6 1558.3,496.6 1558.7,506.8 1559.7,509.7 1560.2,524.2 1561.2,542.3 1562.6,525.6 1563.4,538.7 1564.8,544.5 1566,540.1 1566.5,550.3 1567.7,554.6 1568.4,566.3 1569.9,569.2 1571.3,576.4 1573.5,580 1574.2,567.7 1576.4,580 1577.1,570.6 1577.9,565.5 1579.3,580 1580.8,566.3 1582.9,563.4 1583.4,540.1 1585.1,541.6 1587.3,541.6 1588,535.8 1589.5,531.4 1591.6,530.7 1592.1,524.2 1593.1,524.2 1593.5,538.7 1595,547.4 1596,560.4 1596.7,569.2 1598.2,575.7 1599.3,589.5 1600.8,575.7 1601.8,588 1604,590.9 1608.3,590.9 1609.1,596 1610.5,597.5 1616.3,597.5 1617.3,590.9 1618.5,598.2 1620.7,598.9 1621.4,602.5 1623.6,598.2 1625,604 1627.2,605.4 1628.7,609.1 1633.7,611.2 1635.2,616.3 1637.4,619.2 1637.4,628 1638.6,633.3 1639.5,616.3 1640.3,594.6 1641.4,576.4 1642.4,582.2 1644.6,582.9 1645.3,603.3"/>
<rect x="1243.5" y="459" width="415" height="227.5" fill="none" stroke="#f4c8a6" stroke-width="3"/>
<line x1="291" y1="158.6" x2="1699" y2="158.6" stroke="#9fc070" stroke-width="2" stroke-opacity="0.8"/>
<line x1="291" y1="345" x2="1699" y2="345" stroke="#9fc070" stroke-width="3" stroke-opacity="0.58"/>
<line x1="291" y1="459.2" x2="1699" y2="459.2" stroke="#9fc070" stroke-width="3" stroke-opacity="0.58"/>
<line x1="291" y1="552" x2="1699" y2="552" stroke="#9fc070" stroke-width="3" stroke-opacity="0.58"/>
<line x1="291" y1="645" x2="1699" y2="645" stroke="#9fc070" stroke-width="3" stroke-opacity="0.58"/>
<line x1="291" y1="759.8" x2="1699" y2="759.8" stroke="#9fc070" stroke-width="3" stroke-opacity="0.58"/>
<line x1="291" y1="946" x2="1699" y2="946" stroke="#9fc070" stroke-width="2" stroke-opacity="0.8"/>
<line x1="1243.5" y1="459.1" x2="1659.8" y2="459.1" stroke="#c6c488" stroke-width="2.2"/>
<line x1="4" y1="612.4" x2="1699" y2="612.4" stroke="#9bb065" stroke-width="3" stroke-opacity="0.96"/>
<line x1="291" y1="158.6" x2="1108.8" y2="945.6" stroke="#99b85e" stroke-width="3" stroke-opacity="0.92"/>
<line x1="8" y1="871.8" x2="1402" y2="668.4" stroke="#586238" stroke-width="2.6" stroke-dasharray="8.2 3.4"/>
<line x1="1402" y1="668.4" x2="1638.6" y2="633.6" stroke="#95b558" stroke-width="2.6"/>
<line x1="1638.6" y1="633.6" x2="1699" y2="625.2" stroke="#586238" stroke-width="2.6" stroke-dasharray="8.2 3.4"/>
<text x="291.2" y="173" font-size="14" fill="#9a9c9d">100%</text>
<text x="290.2" y="358.6" font-size="14" fill="#9a9c9d">76.4%</text>
<text x="290.2" y="473" font-size="14" fill="#9a9c9d">61.8%</text>
<text x="290.2" y="566" font-size="14" fill="#9a9c9d">50%</text>
<text x="290.2" y="659" font-size="14" fill="#9a9c9d">38.2%</text>
<text x="290.2" y="773.6" font-size="14" fill="#9a9c9d">23.6%</text>
<text x="290.2" y="959.8" font-size="14" fill="#9a9c9d">0%</text>
<text x="1698" y="172.5" font-size="14" fill="#9a9c9d" text-anchor="end" textLength="36" lengthAdjust="spacingAndGlyphs">29.95</text>
<text x="1698" y="358.9" font-size="14" fill="#9a9c9d" text-anchor="end" textLength="36" lengthAdjust="spacingAndGlyphs">29.15</text>
<text x="1698" y="473.2" font-size="14" fill="#9a9c9d" text-anchor="end" textLength="36" lengthAdjust="spacingAndGlyphs">28.66</text>
<text x="1698" y="566" font-size="14" fill="#9a9c9d" text-anchor="end" textLength="36" lengthAdjust="spacingAndGlyphs">28.26</text>
<text x="1698" y="659" font-size="14" fill="#9a9c9d" text-anchor="end" textLength="36" lengthAdjust="spacingAndGlyphs">27.86</text>
<text x="1698" y="773.6" font-size="14" fill="#9a9c9d" text-anchor="end" textLength="36" lengthAdjust="spacingAndGlyphs">27.37</text>
<text x="1698" y="959.8" font-size="14" fill="#9a9c9d" text-anchor="end" textLength="36" lengthAdjust="spacingAndGlyphs">26.57</text>
<text x="1711.8" y="41.6" font-size="16.3" fill="#2c2b24" textLength="32" lengthAdjust="spacingAndGlyphs">30.5</text>
<text x="1711.8" y="155" font-size="16.3" fill="#2c2b24" textLength="32" lengthAdjust="spacingAndGlyphs">30.0</text>
<text x="1711.8" y="270" font-size="16.3" fill="#2c2b24" textLength="32" lengthAdjust="spacingAndGlyphs">29.5</text>
<text x="1711.8" y="387.2" font-size="16.3" fill="#2c2b24" textLength="32" lengthAdjust="spacingAndGlyphs">29.0</text>
<text x="1711.8" y="503.4" font-size="16.3" fill="#2c2b24" textLength="32" lengthAdjust="spacingAndGlyphs">28.5</text>
<text x="1711.8" y="619.8" font-size="16.3" fill="#2c2b24" textLength="32" lengthAdjust="spacingAndGlyphs">28.0</text>
<text x="1711.8" y="736.2" font-size="16.3" fill="#2c2b24" textLength="32" lengthAdjust="spacingAndGlyphs">27.5</text>
<text x="1711.8" y="852.2" font-size="16.3" fill="#2c2b24" textLength="32" lengthAdjust="spacingAndGlyphs">27.0</text>
<text x="1711.8" y="972.6" font-size="16.3" fill="#2c2b24" textLength="32" lengthAdjust="spacingAndGlyphs">26.5</text>
<rect x="1699" y="589.3" width="46" height="25.4" fill="#b3121a"/>
<text x="1701.6" y="609.8" font-size="16.3" fill="#ffffff" textLength="40.4" lengthAdjust="spacingAndGlyphs">28.04</text>
<text x="11.2" y="986.6" font-size="16.6" fill="#2c2b24" textLength="83.4" lengthAdjust="spacingAndGlyphs">3-sie-2015</text>
<text x="145.5" y="986.6" font-size="16.6" fill="#2c2b24" textLength="40.6" lengthAdjust="spacingAndGlyphs">12:02</text>
<text x="241.3" y="986.6" font-size="16.6" fill="#2c2b24" textLength="37.7" lengthAdjust="spacingAndGlyphs">5-sie</text>
<text x="350.7" y="986.6" font-size="16.6" fill="#2c2b24" textLength="37.7" lengthAdjust="spacingAndGlyphs">6-sie</text>
<text x="411.3" y="986.6" font-size="16.6" fill="#2c2b24" textLength="42.7" lengthAdjust="spacingAndGlyphs">09:00</text>
<text x="509.6" y="986.6" font-size="16.6" fill="#2c2b24" textLength="42.7" lengthAdjust="spacingAndGlyphs">09:10</text>
<text x="602.7" y="986.6" font-size="16.6" fill="#2c2b24" textLength="41.9" lengthAdjust="spacingAndGlyphs">09:42</text>
<text x="670.4" y="986.6" font-size="16.6" fill="#2c2b24" textLength="41.2" lengthAdjust="spacingAndGlyphs">10:00</text>
<text x="728" y="986.6" font-size="16.6" fill="#2c2b24" textLength="41.5" lengthAdjust="spacingAndGlyphs">10:03</text>
<text x="790" y="986.6" font-size="16.6" fill="#2c2b24" textLength="42.0" lengthAdjust="spacingAndGlyphs">10:05</text>
<text x="885.3" y="986.6" font-size="16.6" fill="#2c2b24" textLength="40.9" lengthAdjust="spacingAndGlyphs">10:14</text>
<text x="973.1" y="986.6" font-size="16.6" fill="#2c2b24" textLength="41.9" lengthAdjust="spacingAndGlyphs">10:33</text>
<text x="1080.2" y="986.6" font-size="16.6" fill="#2c2b24" textLength="41.4" lengthAdjust="spacingAndGlyphs">10:39</text>
<text x="1196.4" y="986.6" font-size="16.6" fill="#2c2b24" textLength="41.2" lengthAdjust="spacingAndGlyphs">11:00</text>
<text x="1293.3" y="986.6" font-size="16.6" fill="#2c2b24" textLength="42.2" lengthAdjust="spacingAndGlyphs">11:24</text>
<text x="1407" y="986.6" font-size="16.6" fill="#2c2b24" textLength="41.4" lengthAdjust="spacingAndGlyphs">12:00</text>
<text x="1465.4" y="986.6" font-size="16.6" fill="#2c2b24" textLength="40.6" lengthAdjust="spacingAndGlyphs">12:37</text>
<text x="1547.5" y="986.6" font-size="16.6" fill="#2c2b24" textLength="40.9" lengthAdjust="spacingAndGlyphs">13:00</text>
<text x="42.3" y="26" font-size="16" fill="#3a3028" textLength="78.1" lengthAdjust="spacingAndGlyphs">FPKOU15:</text>
<text x="124.3" y="26" font-size="16" fill="#d3272f" textLength="41" lengthAdjust="spacingAndGlyphs">27.93</text>
<text x="173.2" y="26" font-size="16" fill="#f0a22e" textLength="10.8" lengthAdjust="spacingAndGlyphs">L:</text>
<text x="188.9" y="26" font-size="16" fill="#d3272f" textLength="42" lengthAdjust="spacingAndGlyphs">4 397</text>
<g fill="#fbfbf7" stroke="#5e5e55" stroke-width="1.1" stroke-linejoin="miter"><path d="M17.2 14.6 V12.5 L21 10.2 L24.8 12.5 V14.6 Z"/><path d="M17.2 26.6 V28.5 L21 31.5 L24.8 28.5 V26.6 Z"/><path d="M14.6 17.2 H13 L10.3 21 L13 24.8 H14.6 Z"/><path d="M27.4 17.2 H29 L31.7 21 L29 24.8 H27.4 Z"/><circle cx="21" cy="20.9" r="2.3"/></g>
<line x1="17.2" y1="26.8" x2="24.8" y2="26.8" stroke="#5e5e55" stroke-width="1.6"/>
<path d="M1095.5 861.9 L1100.2 866.9 L1098 866.9 L1098 876 L1093 876 L1093 866.9 L1090.8 866.9 Z" fill="#3a981a"/>
<line x1="1095.5" y1="864.6" x2="1095.5" y2="873.8" stroke="#a4ee88" stroke-width="1.6"/>
<path d="M1265.3 61.2 L1269 61.2 L1269 69.7 L1272 69.7 L1272 70.8 L1267.4 75 L1262.4 70.8 L1262.4 69.7 L1265.3 69.7 Z" fill="#6a0f1c"/>
<path d="M1266.2 62 L1268.2 62 L1268.2 70.2 L1270 70.4 L1267.4 73 L1264.6 70.4 L1266.2 70.2 Z" fill="#cf3a50"/>
</svg>
</body></html>
